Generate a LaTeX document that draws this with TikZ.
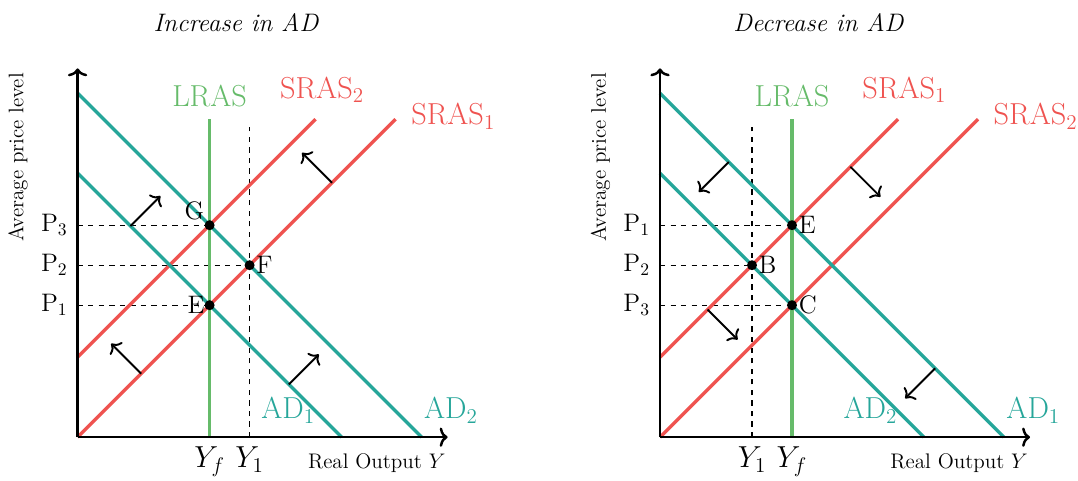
\documentclass[tikz,border=0pt]{standalone}
\usepackage{amsmath}
\usetikzlibrary{positioning,calc,arrows.meta}
\definecolor{adteal}{RGB}{38,166,154}
\definecolor{srasred}{RGB}{239,83,80}
\definecolor{lrasgreen}{RGB}{102,187,106}
\tikzset{
  every picture/.style={line width=0.7pt},
  sAxis/.style={line width=1.4pt, -{To[length=4.5pt, width=11pt]}},
  sAD/.style={adteal, line width=1.9pt},
  sSRAS/.style={srasred, line width=1.9pt},
  sLRAS/.style={lrasgreen, line width=1.9pt},
  sGuide/.style={dashed, line width=0.6pt},
  sShift/.style={line width=1.1pt, -{To[length=4.5pt, width=10pt]}},
  sEq/.style={circle, fill=black, inner sep=0pt, minimum size=0.2cm},
  sTitle/.style={font=\Large\itshape, anchor=base},
  sTick/.style={font=\Large},
  sYtick/.style={font=\LARGE},
  sPt/.style={font=\Large},
  sAxlab/.style={font=\large},
  sCurve/.style={font=\LARGE, anchor=base west},
}

\begin{document}
\begin{tikzpicture}[x=0.8cm, y=0.8cm]
  \useasboundingbox (-1.94,-1.09) rectangle (25.01,10.93);

  % ---- increase in AD ----
  \begin{scope}
    \coordinate (Oi) at (0,0);
    \coordinate (Ytopi) at (0,9.22);
    \coordinate (Xendi) at (9.25,0);
    \coordinate (AD1ia) at (0,6.6);  \coordinate (AD1ib) at (6.6,0);
    \coordinate (AD2ia) at (0,8.6);  \coordinate (AD2ib) at (8.6,0);
    \coordinate (S1ib) at (7.95,7.95);
    \coordinate (S2ia) at (0,2);     \coordinate (S2ib) at (5.95,7.95);
    \coordinate (Lia) at (3.3,0);    \coordinate (Lib) at (3.3,7.95);
    \coordinate (Y1ia) at (4.3,0);   \coordinate (Y1ib) at (4.3,7.75);
    \coordinate (P1i) at (0,3.3);
    \coordinate (P2i) at (0,4.3);
    \coordinate (P3i) at (0,5.3);
    \coordinate (pEi) at (3.3,3.3);
    \coordinate (pFi) at (4.3,4.3);
    \coordinate (pGi) at (3.3,5.3);

    \node[sTitle] (titlei) at (3.96,10.14) {Increase in AD};

    \draw[sGuide] (P1i) -- (pEi);
    \draw[sGuide] (P2i) -- (pFi);
    \draw[sGuide] (P3i) -- (pGi);
    \draw[sGuide] (Y1ia) -- (Y1ib);

    \draw[sSRAS] (Oi) -- (S1ib);
    \draw[sSRAS] (S2ia) -- (S2ib);
    \draw[sAD] (AD1ia) -- (AD1ib);
    \draw[sAD] (AD2ia) -- (AD2ib);
    \draw[sLRAS] (Lia) -- (Lib);
    \draw[sAxis] (Oi) -- (Ytopi);
    \draw[sAxis] (Oi) -- (Xendi);

    % shifts
    \draw[sShift] ($(AD1ia)!0.2!(AD1ib)$) -- ++(0.75,0.75);
    \draw[sShift] ($(AD1ia)!0.8!(AD1ib)$) -- ++(0.75,0.75);
    \draw[sShift] ($(Oi)!0.2!(S1ib)$) -- ++(-0.75,0.75);
    \draw[sShift] ($(Oi)!0.8!(S1ib)$) -- ++(-0.75,0.75);

    \node[sEq, label={[sPt, label distance=-4pt]above left:G}] (Gi) at (pGi) {};
    \node[sEq, label={[sPt, label distance=-3pt]right:F}] (Fi) at (pFi) {};
    \node[sEq, label={[sPt, label distance=-4pt]left:E}] (Ei) at (pEi) {};

    \node[sTick, left=2pt of P1i] (tP1i) {$\mathrm{P}_1$};
    \node[sTick, left=2pt of P2i] (tP2i) {$\mathrm{P}_2$};
    \node[sTick, left=2pt of P3i] (tP3i) {$\mathrm{P}_3$};
    \node[sYtick, below=2pt of Lia] (tYfi) {$Y_f$};
    \node[sYtick, below=2pt of Y1ia] (tY1i) {$Y_1$};

    \node[sAxlab, anchor=base west] (xlabi) at (5.6,-0.77) {Real Output $Y$};
    \node[sAxlab, rotate=90] (ylabi) at (-1.49,7.0) {Average price level};

    \node[sCurve, lrasgreen, anchor=base] (Llabi) at (3.3,8.27) {LRAS};
    \node[sCurve, srasred] (S2labi) at (4.9,8.475) {SRAS$_2$};
    \node[sCurve, srasred] (S1labi) at (8.18,7.81) {SRAS$_1$};
    \node[sCurve, adteal] (AD1labi) at (4.43,0.46) {AD$_1$};
    \node[sCurve, adteal] (AD2labi) at (8.5,0.46) {AD$_2$};
  \end{scope}

  % ---- decrease in AD ----
  \begin{scope}[shift={(14.56,0)}]
    \coordinate (Od) at (0,0);
    \coordinate (Ytopd) at (0,9.22);
    \coordinate (Xendd) at (9.25,0);
    \coordinate (AD1da) at (0,8.6);  \coordinate (AD1db) at (8.6,0);
    \coordinate (AD2da) at (0,6.6);  \coordinate (AD2db) at (6.6,0);
    \coordinate (S1da) at (0,2);     \coordinate (S1db) at (5.95,7.95);
    \coordinate (S2db) at (7.95,7.95);
    \coordinate (Lda) at (3.3,0);    \coordinate (Ldb) at (3.3,7.95);
    \coordinate (Y1da) at (2.3,0);   \coordinate (Y1db) at (2.3,7.75);
    \coordinate (P1d) at (0,5.3);
    \coordinate (P2d) at (0,4.3);
    \coordinate (P3d) at (0,3.3);
    \coordinate (pEd) at (3.3,5.3);
    \coordinate (pBd) at (2.3,4.3);
    \coordinate (pCd) at (3.3,3.3);

    \node[sTitle] (titled) at (3.96,10.14) {Decrease in AD};

    \draw[sGuide] (P1d) -- (pEd);
    \draw[sGuide] (P2d) -- (pBd);
    \draw[sGuide] (P3d) -- (pCd);
    \draw[sGuide] (Y1da) -- (Y1db);

    \draw[sSRAS] (S1da) -- (S1db);
    \draw[sSRAS] (Od) -- (S2db);
    \draw[sAD] (AD1da) -- (AD1db);
    \draw[sAD] (AD2da) -- (AD2db);
    \draw[sLRAS] (Lda) -- (Ldb);
    \draw[sAxis] (Od) -- (Ytopd);
    \draw[sAxis] (Od) -- (Xendd);

    % shifts
    \draw[sShift] ($(AD1da)!0.2!(AD1db)$) -- ++(-0.75,-0.75);
    \draw[sShift] ($(AD1da)!0.8!(AD1db)$) -- ++(-0.75,-0.75);
    \draw[sShift] ($(S1da)!0.2!(S1db)$) -- ++(0.75,-0.75);
    \draw[sShift] ($(S1da)!0.8!(S1db)$) -- ++(0.75,-0.75);

    \node[sEq, label={[sPt, label distance=-3pt]right:E}] (Ed) at (pEd) {};
    \node[sEq, label={[sPt, label distance=-3pt]right:B}] (Bd) at (pBd) {};
    \node[sEq, label={[sPt, label distance=-3pt]right:C}] (Cd) at (pCd) {};

    \node[sTick, left=2pt of P1d] (tP1d) {$\mathrm{P}_1$};
    \node[sTick, left=2pt of P2d] (tP2d) {$\mathrm{P}_2$};
    \node[sTick, left=2pt of P3d] (tP3d) {$\mathrm{P}_3$};
    \node[sYtick, below=2pt of Y1da] (tY1d) {$Y_1$};
    \node[sYtick, below=2pt of Lda] (tYfd) {$Y_f$};

    \node[sAxlab, anchor=base west] (xlabd) at (5.6,-0.77) {Real Output $Y$};
    \node[sAxlab, rotate=90] (ylabd) at (-1.49,7.0) {Average price level};

    \node[sCurve, lrasgreen, anchor=base] (Lladb) at (3.3,8.27) {LRAS};
    \node[sCurve, srasred] (S1labd) at (4.9,8.475) {SRAS$_1$};
    \node[sCurve, srasred] (S2labd) at (8.18,7.81) {SRAS$_2$};
    \node[sCurve, adteal] (AD2labd) at (4.43,0.46) {AD$_2$};
    \node[sCurve, adteal] (AD1labd) at (8.5,0.46) {AD$_1$};
  \end{scope}
\end{tikzpicture}
\end{document}
